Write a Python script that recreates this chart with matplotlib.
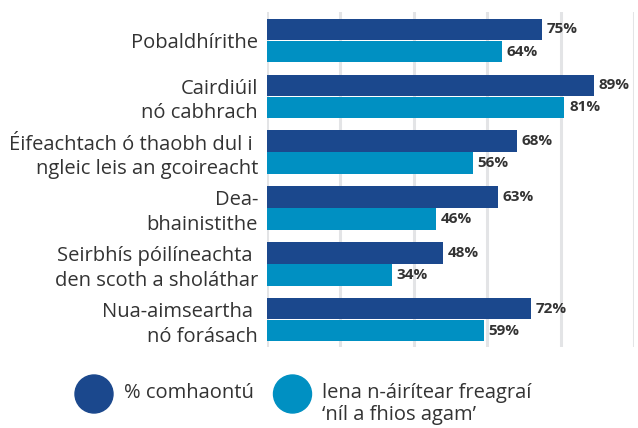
import matplotlib
matplotlib.use("Agg")
import matplotlib.pyplot as plt
from matplotlib.patches import Ellipse
import numpy as np

plt.rcParams['font.family'] = ['Open Sans', 'DejaVu Sans']

categories = [
    "Pobaldhírithe",
    "Cairdiúil\nnó cabhrach",
    "Éifeachtach ó thaobh dul i \nngleic leis an gcoireacht",
    "Dea-\nbhainistithe",
    "Seirbhís póilíneachta \nden scoth a sholáthar",
    "Nua-aimseartha \nnó forásach",
]
agree = [75, 89, 68, 63, 48, 72]
incl_dont_know = [64, 81, 56, 46, 34, 59]
series_labels = ["% comhaontú", "lena n-áirítear freagraí\n\u2018níl a fhios agam\u2019"]

dark = "#1B488D"
light = "#0090C2"
text_col = "#333333"

fig = plt.figure(figsize=(6.38, 4.28), dpi=100)
ax = fig.add_axes([267 / 638, 1 - 347 / 428, 367 / 638, 335 / 428])

y = np.arange(len(categories))
h = 0.385
gap = 0.01
ax.barh(y - h / 2 - gap / 2, agree, height=h, color=dark, zorder=3)
ax.barh(y + h / 2 + gap / 2, incl_dont_know, height=h, color=light, zorder=3)

for yi, v in zip(y, agree):
    ax.text(v + 1.3, yi - h / 2 - gap / 2, f"{v}%", va="center", ha="left",
            fontsize=11, fontweight="bold", color=text_col, zorder=4)
for yi, v in zip(y, incl_dont_know):
    ax.text(v + 1.3, yi + h / 2 + gap / 2, f"{v}%", va="center", ha="left",
            fontsize=11, fontweight="bold", color=text_col, zorder=4)

ax.set_xlim(0, 100)
ax.set_ylim(5.49, -0.51)
ax.set_xticks([0, 20, 40, 60, 80, 100])
ax.set_xticklabels([])
ax.tick_params(axis="x", length=0)
ax.grid(axis="x", color="#E3E4E6", linewidth=2.2, zorder=0)
for s in ax.spines.values():
    s.set_visible(False)

ax.set_yticks(y)
ax.set_yticklabels(categories, fontsize=14.5, color=text_col, linespacing=1.3)
ax.tick_params(axis="y", length=0, pad=6.5)

# legend drawn as circles with text
r_w, r_h = 38 / 638, 38 / 428
for cx, col, lab in [(94, dark, series_labels[0]), (292.5, light, series_labels[1])]:
    fig.add_artist(Ellipse((cx / 638, 1 - 394 / 428), r_w, r_h, color=col, transform=fig.transFigure))
    fig.text((cx + 29.5) / 638, 1 - 383 / 428, lab, ha="left", va="top",
             fontsize=14.5, color=text_col, linespacing=1.15)

fig.savefig("out.png", dpi=100)
